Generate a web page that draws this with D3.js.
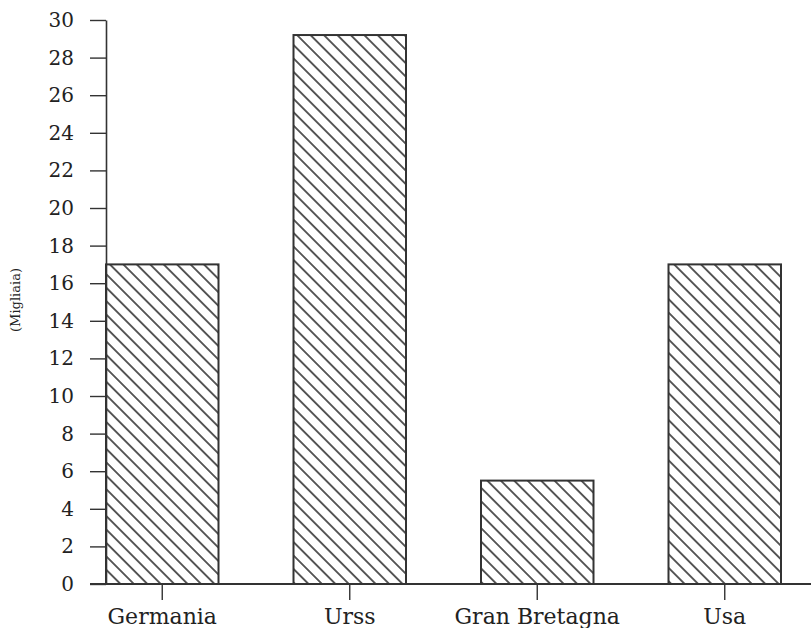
<!DOCTYPE html>
<html>
<head>
<meta charset="utf-8">
<script src="https://cdn.jsdelivr.net/npm/d3@7"></script>
<style>
  body { margin: 0; background: #fff; }
  text { font-family: "DejaVu Serif", "Liberation Serif", serif; fill: #222; }
</style>
</head>
<body>
<script>
// Dati (migliaia)
const categorie = ["Germania", "Urss", "Gran Bretagna", "Usa"];
const valori = [17, 29.2, 5.5, 17];
const ticksY = [0, 2, 4, 6, 8, 10, 12, 14, 16, 18, 20, 22, 24, 26, 28, 30];

const WIDTH = 811;
const HEIGHT = 628;
const MARGIN = { top: 20, bottom: 44, left: 106, right: 30 };
const INK = "#333";

const svg = d3.select("body")
  .append("svg")
  .attr("width", WIDTH)
  .attr("height", HEIGHT);

// Tratteggio diagonale per le barre
svg.append("defs")
  .append("pattern")
  .attr("id", "tratteggio")
  .attr("patternUnits", "userSpaceOnUse")
  .attr("width", 9.5)
  .attr("height", 9.5)
  .attr("patternTransform", "rotate(45)")
  .append("line")
  .attr("x1", 0).attr("y1", 4.75)
  .attr("x2", 9.5).attr("y2", 4.75)
  .attr("stroke", INK)
  .attr("stroke-width", 1.6);

const escalaY = d3.scaleLinear()
  .domain([0, 30])
  .range([HEIGHT - MARGIN.bottom, MARGIN.top]);

const escalaX = d3.scaleBand()
  .domain(categorie)
  .range([MARGIN.left, 781])
  .paddingInner(0.4)
  .paddingOuter(0);

// Barre
svg.append("g")
  .selectAll("rect")
  .data(categorie)
  .join("rect")
  .attr("x", d => escalaX(d))
  .attr("y", (d, i) => escalaY(valori[i]))
  .attr("width", escalaX.bandwidth())
  .attr("height", (d, i) => escalaY(0) - escalaY(valori[i]))
  .attr("fill", "url(#tratteggio)")
  .attr("stroke", INK)
  .attr("stroke-width", 2);

// Asse Y
const ejeY = d3.axisLeft(escalaY)
  .tickValues(ticksY)
  .tickSize(16)
  .tickPadding(16)
  .tickSizeOuter(0);

const contenedorEjeY = svg.append("g")
  .attr("transform", `translate(${MARGIN.left},0)`)
  .call(ejeY);

contenedorEjeY.select(".domain").attr("stroke", INK).attr("stroke-width", 1.6);
contenedorEjeY.selectAll(".tick line").attr("stroke", INK).attr("stroke-width", 1.4);
contenedorEjeY.selectAll(".tick text")
  .attr("font-size", 20)
  .attr("font-family", "DejaVu Serif")
  .attr("fill", "#222");

// Asse X (linea di base lunga fino al bordo)
const ejeX = d3.axisBottom(escalaX)
  .tickSize(16)
  .tickPadding(8)
  .tickSizeOuter(0);

const contenedorEjeX = svg.append("g")
  .attr("transform", `translate(0,${escalaY(0)})`)
  .call(ejeX);

contenedorEjeX.select(".domain").remove();
contenedorEjeX.append("line")
  .attr("x1", 90).attr("x2", WIDTH)
  .attr("stroke", INK).attr("stroke-width", 2);
contenedorEjeX.selectAll(".tick line").attr("stroke", INK).attr("stroke-width", 1.4);
contenedorEjeX.selectAll(".tick text")
  .attr("font-size", 22)
  .attr("font-family", "DejaVu Serif")
  .attr("fill", "#222");

// Etichetta asse Y
svg.append("text")
  .attr("transform", `translate(20,300) rotate(-90)`)
  .attr("text-anchor", "middle")
  .attr("font-size", 13)
  .text("(Migliaia)");
</script>
</body>
</html>
